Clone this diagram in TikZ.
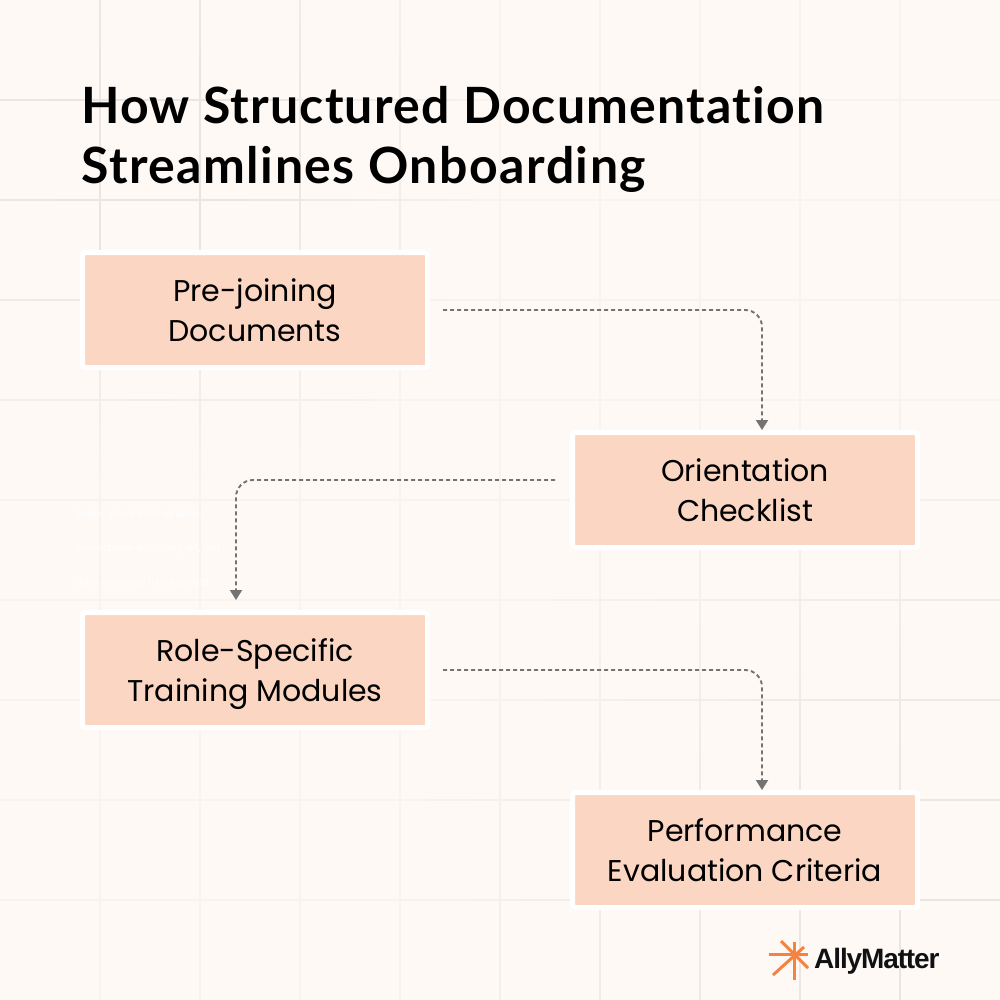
\documentclass[tikz,border=0pt]{standalone}
\usepackage{fontspec}
\setmainfont{Poppins}
\newfontfamily\titlefont{Lato}[BoldFont={Lato Bold},Ligatures=NoCommon,LetterSpace=2.4]
\newfontfamily\titlefontb{Lato}[BoldFont={Lato Bold},Ligatures=NoCommon,LetterSpace=2.95]
\newfontfamily\ghostfont{Liberation Sans}
\newfontfamily\logofont{Liberation Sans}[LetterSpace=-4]
\usetikzlibrary{arrows.meta}
\definecolor{bgc}{HTML}{FEF9F5}
\definecolor{gridc}{HTML}{EAE5E0}
\definecolor{boxc}{HTML}{FBD6C3}
\definecolor{arrc}{HTML}{737373}
\definecolor{logoc}{HTML}{F58241}
\definecolor{inkc}{HTML}{111114}
\newcommand\twolines[2]{\rule{0pt}{32pt}#1\\#2\rule[-10pt]{0pt}{10pt}}
\tikzset{
  x=1pt,y=-1pt,
  stepbox/.style={draw=white,line width=5pt,fill=boxc,rounded corners=2.5pt,minimum width=345pt,minimum height=115pt,inner sep=0pt,align=center,font=\fontsize{30}{40}\selectfont,text=black},
  flow/.style={draw=arrc,line width=1.9pt,dash pattern=on 4pt off 3pt,rounded corners=17pt,-{Triangle[length=10pt,width=12pt,fill=arrc]}},
  ghost/.style={anchor=base west,text=white,inner sep=0pt,font=\ghostfont\fontsize{10.15}{12}\selectfont},
  titletext/.style={anchor=base west,font=\titlefont\bfseries\fontsize{50}{60}\selectfont,text=black,inner sep=0pt},
  titletextb/.style={anchor=base west,font=\titlefontb\bfseries\fontsize{50}{60}\selectfont,text=black,inner sep=0pt},
  ray/.style={draw=logoc,line width=3pt}
}
\begin{document}
\begin{tikzpicture}
\useasboundingbox (0,0) rectangle (1000,1000);
\fill[bgc] (0,0) rectangle (1000,1000);
\foreach \p in {100,200,...,900}{
  \foreach \q in {0,25,...,975}{
    \pgfmathsetmacro\sv{100*min(1,1.3*max(0.22,max(1-veclen(\p-150,\q+12-150)/450,1-veclen(\p-1000,\q+12-1000)/800)))}
    \pgfmathsetmacro\sh{100*min(1,1.3*max(0.22,max(1-veclen(\q+12-150,\p-150)/450,1-veclen(\q+12-1000,\p-1000)/800)))}
    \draw[draw=gridc!\sv!bgc,line width=1.5pt] (\p,\q) -- (\p,\q+25);
    \draw[draw=gridc!\sh!bgc,line width=1.5pt] (\q,\p) -- (\q+25,\p);
  }
}
\node[titletext] (t1) at (81,123.5) {How Structured Documentation};
\node[titletextb] (t2) at (81,183.5) {Streamlines Onboarding};
\node[stepbox] (a) at (255,310) {\twolines{Pre-joining}{Documents}};
\node[stepbox] (b) at (745,490) {\twolines{Orientation}{Checklist}};
\node[stepbox] (c) at (255,670) {\twolines{Role-Specific}{Training Modules}};
\node[stepbox] (d) at (745,850) {\twolines{Performance}{Evaluation Criteria}};
\node[ghost] (g1) at (76,517) {Lorem ipsum dolor sit amet,};
\node[ghost] (g2) at (76,551) {consectetuer adipiscing elit, sed};
\node[ghost] (g3) at (76,585) {diam nonummy nibh euismod};
\coordinate (a1) at (443,310); \coordinate (a2) at (762,430);
\coordinate (b1) at (555,480); \coordinate (b2) at (236,600);
\coordinate (c1) at (443,670); \coordinate (c2) at (762,790);
\draw[flow] (a1) -| (a2);
\draw[flow] (b1) -| (b2);
\draw[flow] (c1) -| (c2);
\draw[ray] (769,954) -- (808,954);
\draw[ray] (794.3,942) -- (794.3,980);
\draw[ray] (781,941) -- (808,968);
\draw[ray] (773,975) -- (804,947);
\node[anchor=base west,inner sep=0pt,text=inkc,font=\logofont\bfseries\fontsize{28}{30}\selectfont] (logo) at (814,968) {AllyMatter};
\end{tikzpicture}
\end{document}
